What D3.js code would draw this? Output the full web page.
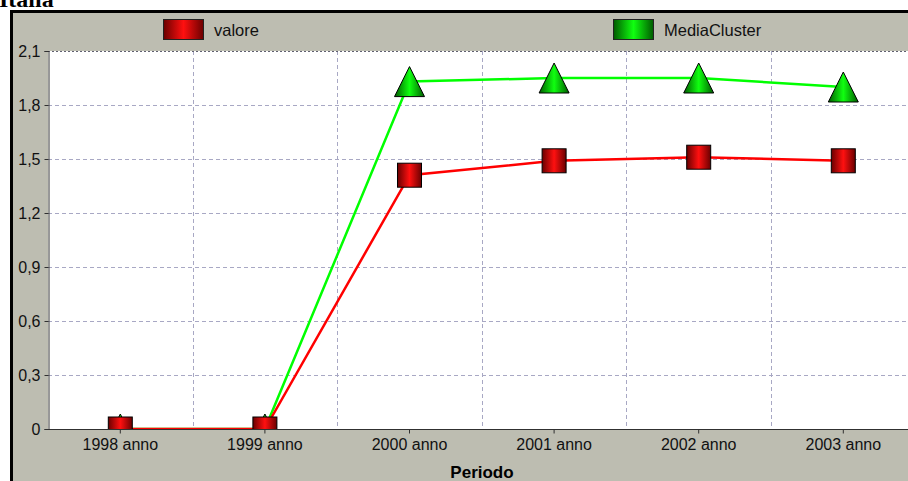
<!DOCTYPE html>
<html><head><meta charset="utf-8">
<script src="https://cdn.jsdelivr.net/npm/d3@7"></script>
<style>html,body{margin:0;padding:0;background:#fff;overflow:hidden}svg{display:block}</style>
</head><body>
<script>
const categories = ["1998 anno","1999 anno","2000 anno","2001 anno","2002 anno","2003 anno"];
const valore = [0, 0, 1.41, 1.49, 1.51, 1.49];
const mediaCluster = [0, 0, 1.93, 1.95, 1.95, 1.90];
const yTicks = [0, 0.3, 0.6, 0.9, 1.2, 1.5, 1.8, 2.1];
const seriesNames = ["valore", "MediaCluster"];

const W = 908, H = 481;
const svg = d3.select("body").append("svg").attr("width", W).attr("height", H);
const defs = svg.append("defs");

function grad(id, dark, light) {
  const g = defs.append("linearGradient").attr("id", id)
    .attr("x1", "0").attr("y1", "0").attr("x2", "1").attr("y2", "0");
  g.append("stop").attr("offset", "0%").attr("stop-color", dark);
  g.append("stop").attr("offset", "50%").attr("stop-color", light);
  g.append("stop").attr("offset", "100%").attr("stop-color", dark);
}
grad("gRed", "#6a0000", "#ff1010");
grad("gGreen", "#005a00", "#10ff10");

// Title (cropped at top, as in the reference)
svg.append("text").attr("x", -1).attr("y", 7)
  .attr("font-family", "Liberation Serif, Times New Roman, serif")
  .attr("font-weight", "bold").attr("font-size", 24).attr("fill", "#000").text("Italia");

// Frame
svg.append("rect").attr("x", 11.5).attr("y", 11.5).attr("width", W).attr("height", H)
  .attr("fill", "#bdbdb1").attr("stroke", "#000").attr("stroke-width", 3);

const m = {left: 48, top: 51, bottom: 429};
const x = d3.scaleBand().domain(categories).range([m.left, m.left + 6 * 144.6]);
const y = d3.scaleLinear().domain([0, 2.1]).range([m.bottom, m.top]);
const plotRight = W;

svg.append("rect").attr("x", m.left).attr("y", m.top).attr("width", plotRight - m.left).attr("height", m.bottom - m.top).attr("fill", "#fff");

svg.append("g").selectAll("line").data(yTicks.filter(d => d > 0 && d < 2.1)).join("line")
  .attr("x1", m.left).attr("x2", plotRight)
  .attr("y1", d => Math.round(y(d)) + 0.5).attr("y2", d => Math.round(y(d)) + 0.5)
  .attr("stroke", "#a8a8c4").attr("stroke-dasharray", "4,3");
svg.append("g").selectAll("line").data(categories.slice(1)).join("line")
  .attr("x1", d => Math.round(x(d)) + 0.5).attr("x2", d => Math.round(x(d)) + 0.5)
  .attr("y1", m.top).attr("y2", m.bottom)
  .attr("stroke", "#a8a8c4").attr("stroke-dasharray", "4,3");
svg.append("line").attr("x1", m.left).attr("x2", plotRight).attr("y1", m.top + 0.5).attr("y2", m.top + 0.5)
  .attr("stroke", "#606070").attr("stroke-dasharray", "2,2");

defs.append("clipPath").attr("id", "plotClip").append("rect")
  .attr("x", m.left).attr("y", m.top - 20).attr("width", plotRight - m.left).attr("height", m.bottom - m.top + 20);

const cx = d => x(d) + x.bandwidth() / 2;
const plot = svg.append("g").attr("clip-path", "url(#plotClip)");
const line = d3.line().x((d, i) => cx(categories[i])).y(d => y(d));

plot.append("path").datum(mediaCluster).attr("d", line).attr("fill", "none").attr("stroke", "#00ff00").attr("stroke-width", 2.5);
plot.append("path").datum(valore).attr("d", line).attr("fill", "none").attr("stroke", "#ff0000").attr("stroke-width", 2.5);

defs.append("clipPath").attr("id", "markClip").append("rect")
  .attr("x", m.left).attr("y", 0).attr("width", plotRight - m.left).attr("height", m.bottom);
const marks = svg.append("g").attr("clip-path", "url(#markClip)");

marks.selectAll("path.tri").data(mediaCluster).join("path").attr("class", "tri")
  .attr("d", (d, i) => {
    const px = cx(categories[i]), py = y(d);
    return `M${px},${py - 15}L${px + 15},${py + 15}L${px - 15},${py + 15}Z`;
  })
  .attr("fill", "url(#gGreen)").attr("stroke", "#000").attr("stroke-width", 1);
marks.selectAll("rect.sq").data(valore).join("rect").attr("class", "sq")
  .attr("x", (d, i) => cx(categories[i]) - 12).attr("y", d => y(d) - 12)
  .attr("width", 24).attr("height", 24)
  .attr("fill", "url(#gRed)").attr("stroke", "#000").attr("stroke-width", 1);

const font = "Liberation Sans, Arial, sans-serif";
const yAxis = svg.append("g").attr("transform", `translate(${m.left + 0.5},0)`)
  .call(d3.axisLeft(y).tickValues(yTicks).tickSize(4).tickPadding(4)
    .tickFormat(d => d3.format(".1f")(d).replace(".", ",").replace(/^0,0$/, "0")));
yAxis.select(".domain").attr("stroke", "#303030");
yAxis.selectAll(".tick line").attr("stroke", "#303030");
yAxis.selectAll("text").attr("font-family", font).attr("font-size", 16).attr("fill", "#111");

const xAxis = svg.append("g").attr("transform", `translate(0,${m.bottom + 0.5})`)
  .call(d3.axisBottom(x).tickSize(4).tickPadding(5).tickSizeOuter(0));
xAxis.select(".domain").attr("stroke", "#303030").attr("d", `M${m.left},0H${plotRight}`);
xAxis.selectAll(".tick line").attr("stroke", "#303030");
xAxis.selectAll("text").attr("font-family", font).attr("font-size", 16).attr("fill", "#111");

svg.append("text").attr("x", 482).attr("y", 478).attr("text-anchor", "middle")
  .attr("font-family", font).attr("font-weight", "bold").attr("font-size", 17).text("Periodo");

const legendX = [163, 613];
const legendFill = ["url(#gRed)", "url(#gGreen)"];
const lg = svg.append("g").selectAll("g").data(seriesNames).join("g")
  .attr("transform", (d, i) => `translate(${legendX[i]},19.5)`);
lg.append("rect").attr("x", 0.5).attr("width", 40).attr("height", 20)
  .attr("fill", (d, i) => legendFill[i]).attr("stroke", "#222").attr("stroke-width", 1);
lg.append("text").attr("x", 51).attr("y", 16).attr("font-family", font).attr("font-size", 16.5).attr("fill", "#111").text(d => d);
</script>
</body></html>
